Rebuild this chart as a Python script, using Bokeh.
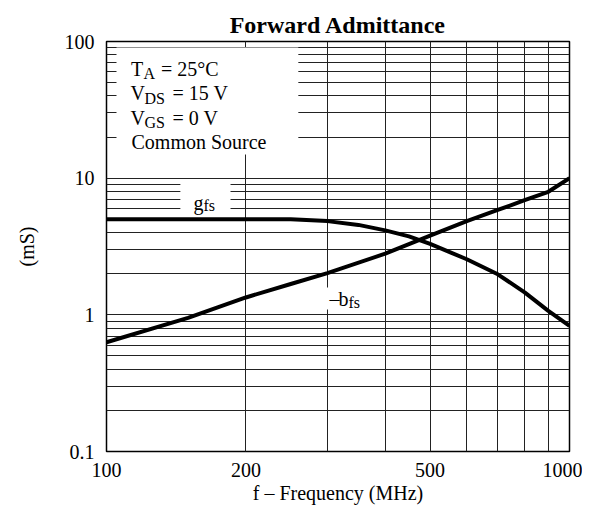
from bokeh.plotting import figure
from bokeh.models import FixedTicker, CustomJSTickFormatter, Label, BoxAnnotation
from bokeh.embed import file_html
from bokeh.resources import INLINE

# ---- data ----
freq_gfs = [100, 150, 200, 250, 300, 350, 400, 450, 500, 600, 700, 800, 900, 1000]
gfs = [5.0, 5.0, 5.0, 5.0, 4.85, 4.55, 4.15, 3.75, 3.3, 2.55, 1.98, 1.46, 1.07, 0.83]
freq_bfs = [100, 150, 200, 250, 300, 400, 500, 600, 700, 800, 900, 1000]
bfs = [0.63, 0.95, 1.34, 1.68, 2.02, 2.8, 3.8, 4.85, 5.85, 6.9, 7.95, 10.0]

x_ticks = [100, 200, 500, 1000]
x_minor = [100, 200, 300, 400, 500, 600, 700, 800, 900, 1000]
y_ticks = [0.1, 1, 10, 100]
y_minor = [0.2, 0.3, 0.4, 0.5, 0.6, 0.7, 0.8, 0.9,
           2, 3, 4, 5, 6, 7, 8, 9,
           20, 30, 40, 50, 60, 70, 80, 90]

FONT = "Liberation Serif"
FS = "20px"
SUB = "16px"

p = figure(width=582, height=521, x_axis_type="log", y_axis_type="log",
           x_range=(100, 1000), y_range=(0.1, 100),
           output_backend="svg", toolbar_location=None,
           min_border_left=106, min_border_right=13,
           min_border_top=41, min_border_bottom=70)
p.background_fill_color = "white"
p.border_fill_color = "white"
p.outline_line_color = "black"
p.outline_line_width = 1.5

p.title.text = "Forward Admittance"
p.title.text_font = FONT
p.title.text_font_size = "24px"
p.title.text_font_style = "bold"
p.title.text_color = "black"
p.title.align = "center"
p.title.standoff = 8

fmt = CustomJSTickFormatter(code="return String(tick);")
p.xaxis.ticker = FixedTicker(ticks=x_ticks, minor_ticks=x_minor)
p.yaxis.ticker = FixedTicker(ticks=y_ticks, minor_ticks=y_minor)
for ax in (p.xaxis, p.yaxis):
    ax.formatter = fmt
    ax.axis_line_color = None
    ax.major_tick_line_color = None
    ax.minor_tick_line_color = None
    ax.major_tick_out = 0
    ax.major_tick_in = 0
    ax.minor_tick_out = 0
    ax.minor_tick_in = 0
    ax.major_label_text_font = FONT
    ax.major_label_text_font_size = FS
    ax.major_label_text_color = "black"
    ax.axis_label_text_font = FONT
    ax.axis_label_text_font_size = FS
    ax.axis_label_text_font_style = "normal"
    ax.axis_label_text_color = "black"

p.xaxis.axis_label = "f – Frequency (MHz)"
p.xaxis.major_label_standoff = 11
p.xaxis.axis_label_standoff = 2
p.yaxis.axis_label = "(mS)"
p.yaxis.major_label_standoff = 12
p.yaxis.axis_label_standoff = 24

for g in (p.xgrid, p.ygrid):
    g.grid_line_color = "#222222"
    g.grid_line_width = 1
    g.minor_grid_line_color = "#222222"
    g.minor_grid_line_width = 1

p.line(freq_gfs, gfs, line_color="black", line_width=4)
p.line(freq_bfs, bfs, line_color="black", line_width=4)

# white boxes behind labels
for (l, r, b, t) in [(105.1, 259.6, 14.9, 90.4), (144.4, 185.3, 5.61, 9.62), (296, 371.5, 1.095, 1.586)]:
    p.add_layout(BoxAnnotation(left=l, right=r, bottom=b, top=t,
                               fill_color="white", fill_alpha=1.0, line_color=None))

def lab(text, xo, yo, size=FS):
    p.add_layout(Label(x=100, y=100, x_offset=xo, y_offset=yo, text=text,
                       text_font=FONT, text_font_size=size,
                       text_align="left", text_baseline="alphabetic",
                       text_color="black"))

# conditions
lab("T", 24.5, -27)
lab("A", 37, -32, SUB)
lab("= 25°C", 54.5, -27)
lab("V", 24, -51.5)
lab("DS", 38, -56.5, SUB)
lab("= 15 V", 66, -51.5)
lab("V", 24, -76)
lab("GS", 38, -81, SUB)
lab("= 0 V", 66, -76)
lab("Common Source", 25, -100)

# curve labels
lab("g", 87, -161)
lab("fs", 97, -164, SUB)
lab("–", 223, -257)
lab("b", 232, -257)
lab("fs", 242, -260.5, SUB)

open("out.html", "w").write(file_html(p, INLINE))
